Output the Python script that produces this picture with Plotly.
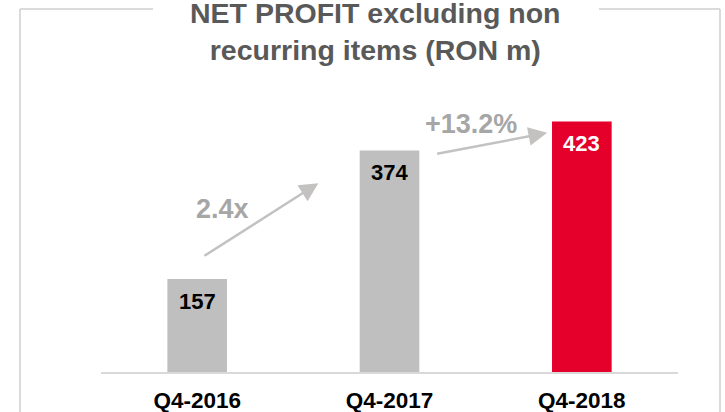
import plotly.graph_objects as go

categories = ["Q4-2016", "Q4-2017", "Q4-2018"]
values = [157, 374, 423]
bar_colors = ["#BFBFBF", "#BFBFBF", "#E4002B"]
label_colors = ["#000000", "#000000", "#FFFFFF"]
growth_labels = ["2.4x", "+13.2%"]
title_text = "NET PROFIT excluding non<br>recurring items (RON m)"

FONT = "Liberation Sans, Arial, sans-serif"
W, H = 725, 412
ML, MR, MT, MB = 101, 47, 76, 40
YMAX = 500

fig = go.Figure()
fig.add_trace(go.Bar(
    x=list(range(len(categories))), y=values,
    marker=dict(color=bar_colors, line=dict(width=0)),
    width=0.31, hoverinfo="skip",
))


def px_x(p):
    return (p - ML) / (W - ML - MR)


def px_y(p):
    return (H - MB - p) / (H - MT - MB)


annotations = []
for i, (v, c) in enumerate(zip(values, label_colors)):
    annotations.append(dict(
        x=i, y=v, xref="x", yref="y", text=f"<b>{v}</b>", showarrow=False,
        yanchor="middle", yshift=-22,
        font=dict(family=FONT, size=22, color=c),
    ))

# growth arrows between bars
arrow_specs = [
    (0, 1, 0.03, 0.63, 1.24, 0.853, (0.13, 1.75)),
    (1, 2, 0.24, 0.82, 0.984, 0.955, (0.425, 0.99)),
]
for k, (i, j, dx0, dx1, f0, f1, (tx, tf)) in enumerate(arrow_specs):
    x0 = i + dx0
    y0 = values[i] * f0
    x1 = i + dx1
    y1 = values[j] * f1
    annotations.append(dict(
        x=x1, y=y1, ax=x0, ay=y0, xref="x", yref="y", axref="x", ayref="y",
        text="", showarrow=True, arrowhead=2, arrowsize=1.5, arrowwidth=2.5,
        arrowcolor="#C4C1C1", standoff=0,
    ))
    annotations.append(dict(
        x=i + tx, y=values[i] * tf if k == 0 else values[j] * tf,
        xref="x", yref="y", text=f"<b>{growth_labels[k]}</b>", showarrow=False,
        font=dict(family=FONT, size=27, color="#A6A6A6"),
    ))

# title as annotation
annotations.append(dict(
    x=px_x(375), y=px_y(32), xref="paper", yref="paper",
    xanchor="center", yanchor="middle", showarrow=False,
    text=f"<b>{title_text}</b>",
    font=dict(family=FONT, size=28.5, color="#595959"),
))

fig.update_layout(annotations=annotations)

# frame around the chart, interrupted by the title
frame_col = "#D0CECE"
L, R, T, B = px_x(20), px_x(720), px_y(9), px_y(413)
shapes = [
    dict(type="line", xref="paper", yref="paper", x0=L, x1=L, y0=B, y1=T,
         line=dict(color=frame_col, width=1.5)),
    dict(type="line", xref="paper", yref="paper", x0=R, x1=R, y0=B, y1=T,
         line=dict(color=frame_col, width=1.5)),
    dict(type="line", xref="paper", yref="paper", x0=L, x1=px_x(153), y0=T, y1=T,
         line=dict(color=frame_col, width=1.5)),
    dict(type="line", xref="paper", yref="paper", x0=px_x(599), x1=R, y0=T, y1=T,
         line=dict(color=frame_col, width=1.5)),
]
fig.update_layout(shapes=shapes)

fig.update_layout(
    width=W, height=H,
    margin=dict(l=ML, r=MR, t=MT, b=MB, autoexpand=False),
    paper_bgcolor="white", plot_bgcolor="white",
    showlegend=False,
    xaxis=dict(
        tickmode="array", tickvals=list(range(len(categories))),
        ticktext=[f"<b>{c}</b>" for c in categories],
        range=[-0.5, 2.5], showgrid=False, zeroline=False,
        showline=True, linecolor="#D9D9D9", linewidth=2,
        ticks="outside", ticklen=7, tickcolor="rgba(0,0,0,0)",
        tickfont=dict(family=FONT, size=22.5, color="#000000"),
        automargin=False, fixedrange=True,
    ),
    yaxis=dict(range=[0, YMAX], visible=False, fixedrange=True),
)

fig.write_html(
    "out.html",
    config={"displayModeBar": False, "staticPlot": True},
    post_script="document.body.style.margin='0';document.body.style.overflow='hidden';",
)
